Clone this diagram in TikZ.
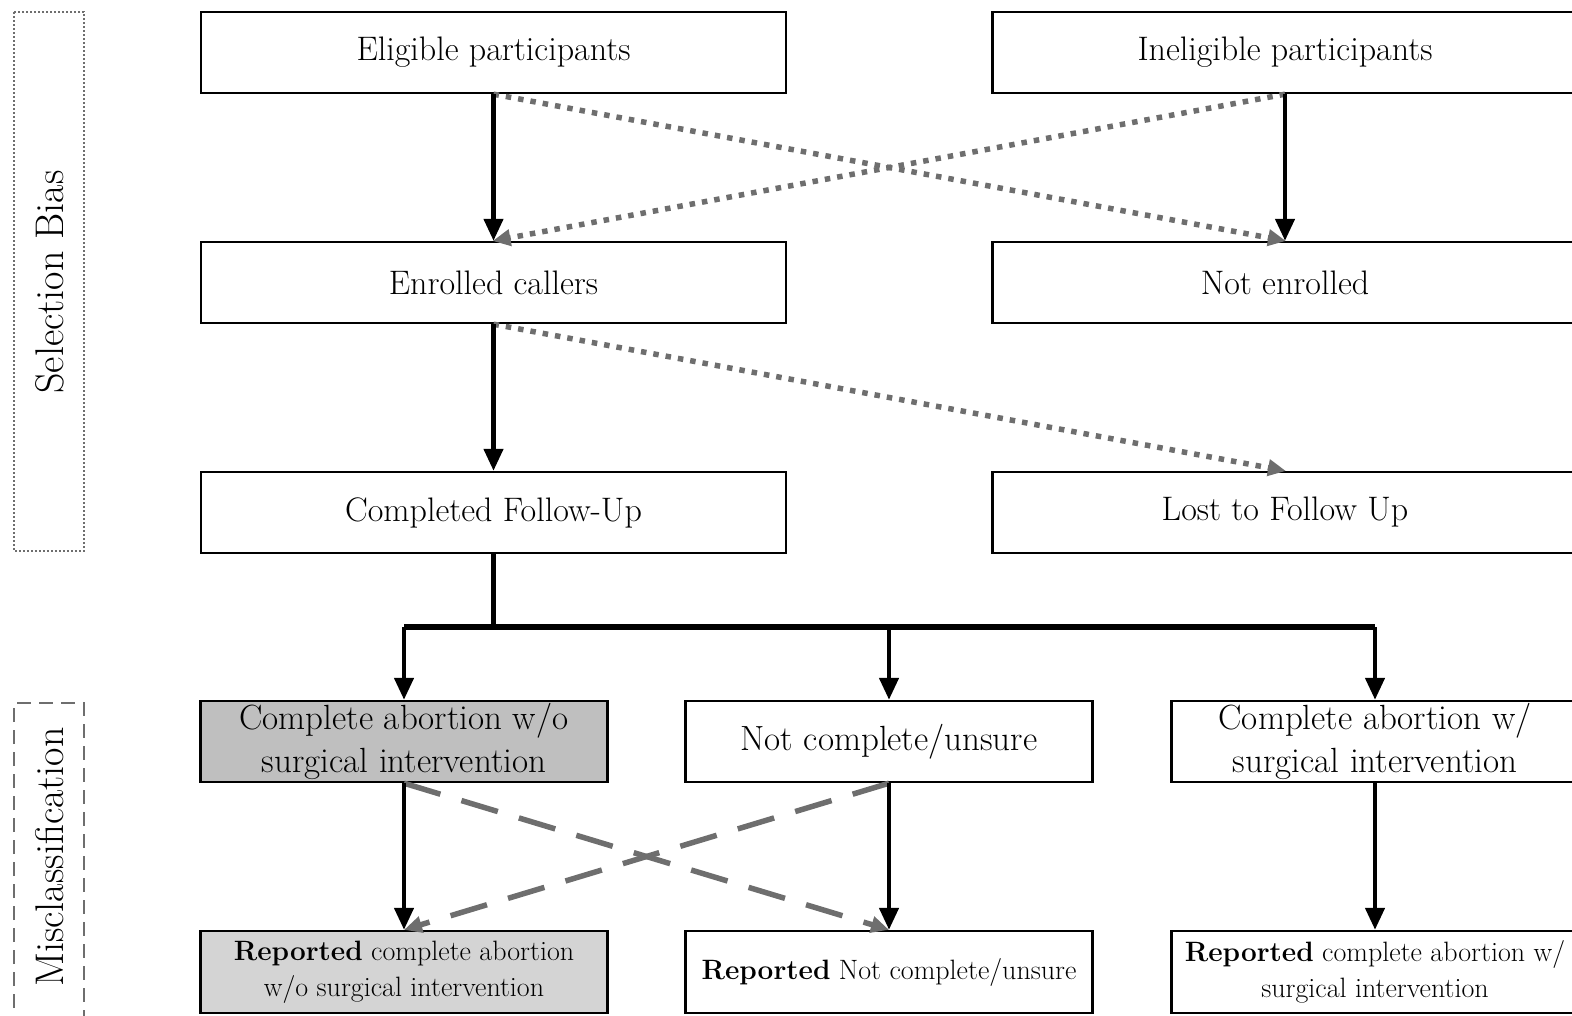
\documentclass[tikz,border=0pt]{standalone}
\usetikzlibrary{arrows.meta,positioning}
\definecolor{lgray}{HTML}{6E6E6E}
\definecolor{boxgray}{HTML}{BFBFBF}
\definecolor{boxlight}{HTML}{D4D4D4}
\begin{document}
\begin{tikzpicture}[x=1pt,y=-1pt,
  box/.style={draw=black,line width=2.4pt,minimum width=585pt,minimum height=81pt,inner sep=0pt,align=center,font=\fontsize{34}{40}\selectfont},
  sbox/.style={draw=black,line width=2.4pt,minimum width=407pt,minimum height=81pt,inner sep=0pt,align=center,font=\fontsize{35}{43}\selectfont},
  rbox/.style={draw=black,line width=2.4pt,minimum width=407pt,minimum height=82pt,inner sep=0pt,align=center,font=\fontsize{28}{36}\selectfont},
  solidarrow/.style={line width=4.5pt,black,-{Triangle[length=22pt,width=19pt]}},
  dotarrow/.style={line width=5.5pt,lgray,dash pattern=on 5.5pt off 7pt,-{Triangle[length=18pt,width=16pt]},shorten >=-1pt},
  dasharrow/.style={line width=5.5pt,lgray,dash pattern=on 38pt off 22pt,-{Triangle[length=18pt,width=16pt]}},
  sidelabel/.style={rotate=90,font=\fontsize{40}{48}\selectfont}
]
\useasboundingbox (0,0) rectangle (1572,1015);
% side boxes
\draw[lgray,line width=1.6pt,dash pattern=on 2pt off 2pt] (14,12) rectangle (84,551);
\node[sidelabel] (sel) at (50,282) {Selection Bias};
\draw[lgray,line width=1.6pt,dash pattern=on 14pt off 8pt] (14,1030) -- (14,703) -- (84,703) -- (84,1030);
\node[sidelabel] (mis) at (50,857) {Misclassification};
% main boxes
\node[box] (elig) at (493.5,52.5) {Eligible participants};
\node[box] (inel) at (1285,52.5) {Ineligible participants};
\node[box] (enr) at (493.5,282.5) {Enrolled callers};
\node[box] (nenr) at (1285,282.5) {Not enrolled};
\node[box] (comp) at (493.5,512.5) {Completed Follow-Up};
\node[box] (lost) at (1285,512.5) {Lost to Follow Up};
% row 4
\node[sbox,fill=boxgray] (cwo) at (404,741.5) {Complete abortion w/o\\surgical intervention};
\node[sbox] (nc) at (889,741.5) {Not complete/unsure};
\node[sbox] (cw) at (1375,741.5) {Complete abortion w/\\surgical intervention};
% row 5
\node[rbox,fill=boxlight] (rcwo) at (404,972) {\textbf{Reported} complete abortion\\w/o surgical intervention};
\node[rbox] (rnc) at (889,972) {\textbf{Reported} Not complete/unsure};
\node[rbox] (rcw) at (1375,972) {\textbf{Reported} complete abortion w/\\surgical intervention};
% selection arrows
\draw[dotarrow] (elig.south) -- (nenr.north);
\draw[dotarrow] (inel.south) -- (enr.north);
\draw[dotarrow] (enr.south) -- (lost.north);
\draw[solidarrow] (elig.south) -- (enr.north);
\draw[solidarrow] (inel.south) -- (nenr.north);
\draw[solidarrow] (enr.south) -- (comp.north);
% branch
\coordinate (br) at (493.5,627);
\draw[line width=4.5pt] (comp.south) -- (br);
\draw[line width=6pt] (cwo.north |- br) -- (cw.north |- br);
\draw[solidarrow] (cwo.north |- br) -- (cwo.north);
\draw[solidarrow] (nc.north |- br) -- (nc.north);
\draw[solidarrow] (cw.north |- br) -- (cw.north);
% misclassification arrows
\draw[dasharrow] (cwo.south) -- (rnc.north);
\draw[dasharrow] (nc.south) -- (rcwo.north);
\draw[solidarrow] (cwo.south) -- (rcwo.north);
\draw[solidarrow] (nc.south) -- (rnc.north);
\draw[solidarrow] (cw.south) -- (rcw.north);
\end{tikzpicture}
\end{document}
